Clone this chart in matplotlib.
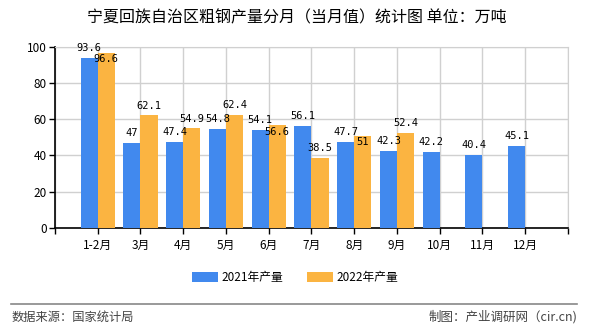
import numpy as np
import matplotlib.pyplot as plt

plt.rcParams['font.family'] = ['Noto Sans CJK SC', 'DejaVu Sans']

months = ['1-2月', '3月', '4月', '5月', '6月', '7月', '8月', '9月', '10月', '11月', '12月']
prod_2021 = [93.6, 47, 47.4, 54.8, 54.1, 56.1, 47.7, 42.3, 42.2, 40.4, 45.1]
prod_2022 = [96.6, 62.1, 54.9, 62.4, 56.6, 38.5, 51, 52.4]
# which 2022 labels the source tucked inside the bar top
inside_2022 = [True, False, False, False, True, False, True, False]

blue = '#4189EE'
orange = '#FBB441'

fig = plt.figure(figsize=(5.9, 3.3), dpi=100)
ax = fig.add_axes([0.0932, 0.309, 0.8695, 0.5495])

x = np.arange(len(months))
w = 0.4
ax.bar(x - w / 2, prod_2021, width=w, color=blue, label='2021年产量', zorder=3)
ax.bar(x[:len(prod_2022)] + w / 2, prod_2022, width=w, color=orange,
       label='2022年产量', zorder=3)

lab_font = dict(family='DejaVu Sans Mono', fontsize=7.5, color='black', zorder=5)
for xi, v in zip(x, prod_2021):
    ax.annotate(f'{v:g}', (xi - w / 2, v), xytext=(0, 3.5), textcoords='offset points',
                ha='center', va='bottom', **lab_font)
for xi, v, inside in zip(x, prod_2022, inside_2022):
    if inside:
        ax.annotate(f'{v:g}', (xi + w / 2, v), xytext=(0, -1), textcoords='offset points',
                    ha='center', va='top', **lab_font)
    else:
        ax.annotate(f'{v:g}', (xi + w / 2, v), xytext=(0, 3.5), textcoords='offset points',
                    ha='center', va='bottom', **lab_font)

ax.set_xlim(-1, 11)
ax.set_ylim(0, 100)
ax.set_yticks(np.arange(0, 101, 20))
ax.set_xticks(np.arange(-1, 12))
ax.set_xticklabels([''] + months + [''])
ax.tick_params(axis='both', labelsize=8.5, length=4, width=1, color='black', pad=2)
ax.tick_params(axis='x', pad=4)
ax.grid(True, color='#d0d0d0', linewidth=1, zorder=0)
for side in ['top', 'right']:
    ax.spines[side].set_color('#d0d0d0')
for side in ['left', 'bottom']:
    ax.spines[side].set_color('black')
    ax.spines[side].set_linewidth(1.2)

fig.text(0.503, 0.945, '宁夏回族自治区粗钢产量分月（当月值）统计图 单位：万吨',
         ha='center', va='center', fontsize=11.5)

fig.legend(loc='center', bbox_to_anchor=(0.5, 0.16), ncol=2, frameon=False,
           fontsize=8.5, handlelength=2.2, handleheight=0.9, columnspacing=2.0,
           handletextpad=0.3)

fig.add_artist(plt.Line2D([0.018, 0.978], [0.08, 0.08], color='#888888', linewidth=1.2))
fig.text(0.02, 0.04, '数据来源：国家统计局', ha='left', va='center', fontsize=8.8, color='#444444')
fig.text(0.978, 0.04, '制图：产业调研网（cir.cn)', ha='right', va='center', fontsize=9,
         color='#444444')

fig.savefig('out.png', dpi=100)
